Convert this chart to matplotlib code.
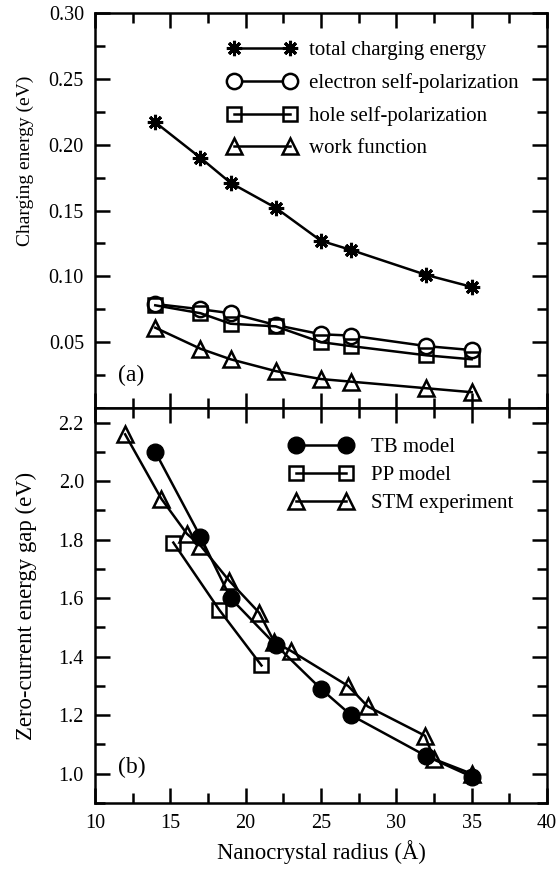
import matplotlib
matplotlib.use('Agg')
import matplotlib.pyplot as plt
from matplotlib.ticker import MultipleLocator, FormatStrFormatter

# panel (a): charging energies
radius_a = [14, 17, 19, 22, 25, 27, 32, 35]
total_charging = [0.217, 0.190, 0.171, 0.152, 0.127, 0.120, 0.101, 0.092]
electron_pol = [0.079, 0.075, 0.072, 0.063, 0.056, 0.055, 0.047, 0.044]
hole_pol = [0.078, 0.072, 0.064, 0.062, 0.050, 0.047, 0.040, 0.037]
work_function = [0.061, 0.045, 0.037, 0.028, 0.022, 0.020, 0.015, 0.012]

# panel (b): zero-current gap
radius_tb = [14, 17, 19, 22, 25, 27, 32, 35]
gap_tb = [2.10, 1.81, 1.60, 1.44, 1.29, 1.20, 1.06, 0.99]
radius_pp = [15.2, 18.25, 21.05]
gap_pp = [1.79, 1.56, 1.37]
radius_stm = [12.0, 14.4, 16.1, 17.0, 18.9, 20.9, 21.9, 23.0, 26.8, 28.1, 31.9, 32.5, 35.0]
gap_stm = [2.16, 1.94, 1.82, 1.78, 1.66, 1.55, 1.45, 1.42, 1.30, 1.23, 1.13, 1.05, 1.00]

plt.rcParams['font.family'] = ['Liberation Serif', 'DejaVu Serif']
plt.rcParams['font.size'] = 14.5

W, H = 557, 873
fig = plt.figure(figsize=(W / 100, H / 100), dpi=100)
ax1 = fig.add_axes([95 / W, 1 - 408 / H, 452 / W, 395 / H])
ax2 = fig.add_axes([95 / W, 1 - 803 / H, 452 / W, 395 / H], sharex=ax1)

lw = 1.8
star = (8, 2, 0)
ax1.plot(radius_a, total_charging, color='black', lw=lw, marker=star, ms=11, mew=2.2,
         label='total charging energy')
ax1.plot(radius_a, electron_pol, color='black', lw=lw, marker='o', ms=11, mew=1.8,
         mfc='white', label='electron self-polarization')
ax1.plot(radius_a, hole_pol, color='black', lw=lw, marker='s', ms=10, mew=1.8,
         mfc='none', label='hole self-polarization')
ax1.plot(radius_a, work_function, color='black', lw=lw, marker='^', ms=11, mew=1.8,
         mfc='none', label='work function')

ax2.plot(radius_tb, gap_tb, color='black', lw=lw, marker='o', ms=12,
         label='TB model')
ax2.plot(radius_pp, gap_pp, color='black', lw=lw, marker='s', ms=10, mew=1.8,
         mfc='none', label='PP model')
ax2.plot(radius_stm, gap_stm, color='black', lw=lw, marker='^', ms=11, mew=1.8,
         mfc='none', label='STM experiment')

ax1.set_xlim(10, 40)
ax1.set_ylim(0, 0.30)
ax2.set_ylim(0.9, 2.25)

ax1.set_yticks([0.05, 0.10, 0.15, 0.20, 0.25, 0.30])
ax1.yaxis.set_minor_locator(MultipleLocator(0.025))
ax1.yaxis.set_major_formatter(FormatStrFormatter('%.2f'))
ax2.yaxis.set_major_locator(MultipleLocator(0.2))
ax2.yaxis.set_minor_locator(MultipleLocator(0.1))
ax2.yaxis.set_major_formatter(FormatStrFormatter('%.1f'))
ax2.xaxis.set_major_locator(MultipleLocator(5))
ax2.xaxis.set_minor_locator(MultipleLocator(2.5))

for ax in (ax1, ax2):
    for sp in ax.spines.values():
        sp.set_linewidth(1.8)
    ax.tick_params(which='both', direction='in', top=True, right=True, width=1.8)
    ax.tick_params(which='major', length=11, pad=8)
    ax.tick_params(which='minor', length=7)

ax1.tick_params(labelbottom=False)

ax1.set_ylabel('Charging energy (eV)', fontsize=14)
ax1.yaxis.set_label_coords(-0.135, 0.625)
ax2.set_ylabel('Zero-current energy gap (eV)', fontsize=16.4)
ax2.yaxis.set_label_coords(-0.128, 0.5)
ax2.set_xlabel('Nanocrystal radius (Å)', fontsize=16.4)
ax2.xaxis.set_label_coords(0.502, -0.095)

ax1.text(11.5, 0.025, '(a)', fontsize=17, va='center')
ax2.text(11.5, 1.02, '(b)', fontsize=17, va='center')

ax1.legend(loc='upper left', frameon=False, numpoints=2, handlelength=3.3,
           handletextpad=0.6, labelspacing=0.62, fontsize=15, borderpad=0,
           borderaxespad=0, bbox_to_anchor=(0.294, 0.93))
ax2.legend(loc='upper left', frameon=False, numpoints=2, handlelength=3.0,
           handletextpad=0.9, labelspacing=0.41, fontsize=15, borderpad=0,
           borderaxespad=0, bbox_to_anchor=(0.431, 0.925))

fig.savefig('out.png', dpi=100)
